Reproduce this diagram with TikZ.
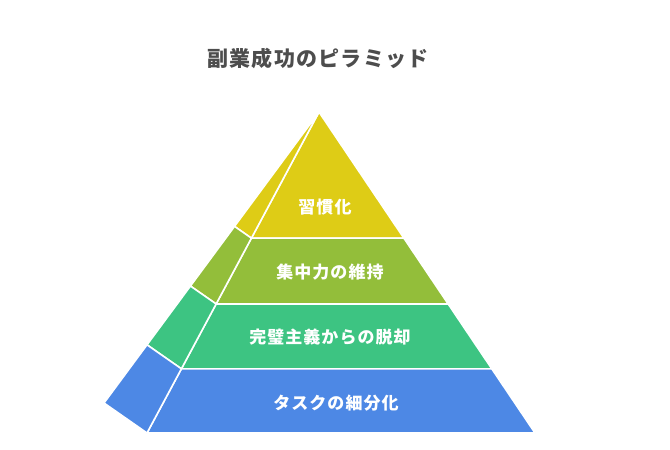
\documentclass[tikz,border=0pt]{standalone}
\usepackage{fontspec}
\setmainfont{Noto Sans CJK JP}
\usetikzlibrary{calc}
\definecolor{cblue}{HTML}{4D88E5}
\definecolor{cgreen}{HTML}{3DC482}
\definecolor{colive}{HTML}{93BE3A}
\definecolor{cyellow}{HTML}{DECC16}
\definecolor{ctitle}{HTML}{4D4D4D}
\begin{document}
\begin{tikzpicture}[x=1pt,y=-1pt,
  face/.style={draw=white,line width=1.6pt,line join=round},
  lbl/.style={text=white,font=\bfseries\fontsize{17}{20}\selectfont\addfontfeatures{LetterSpace=6},inner sep=0pt},
  ttl/.style={text=ctitle,font=\bfseries\fontsize{21}{24}\selectfont\addfontfeatures{LetterSpace=6},inner sep=0pt}]
\useasboundingbox (0,0) rectangle (670,450);
\coordinate (A) at (319,112);
\coordinate (FL) at (147,433);
\coordinate (FR) at (535,433);
\coordinate (BL) at (104,403);
\foreach \ta/\tb/\col in {0/0.393/cyellow,0.393/0.598/colive,0.598/0.80/cgreen,0.80/1/cblue}{
  \fill[\col,face] ($(A)!\ta!(FL)$) -- ($(A)!\ta!(FR)$) -- ($(A)!\tb!(FR)$) -- ($(A)!\tb!(FL)$) -- cycle;
  \fill[\col,face] ($(A)!\ta!(BL)$) -- ($(A)!\ta!(FL)$) -- ($(A)!\tb!(FL)$) -- ($(A)!\tb!(BL)$) -- cycle;
}
\node[ttl] (title) at (318,58) {副業成功のピラミッド};
\node[lbl] (l1) at (325,207) {習慣化};
\node[lbl] (l2) at (330,272) {集中力の維持};
\node[lbl] (l3) at (330,337) {完璧主義からの脱却};
\node[lbl] (l4) at (336,403) {タスクの細分化};
\end{tikzpicture}
\end{document}
